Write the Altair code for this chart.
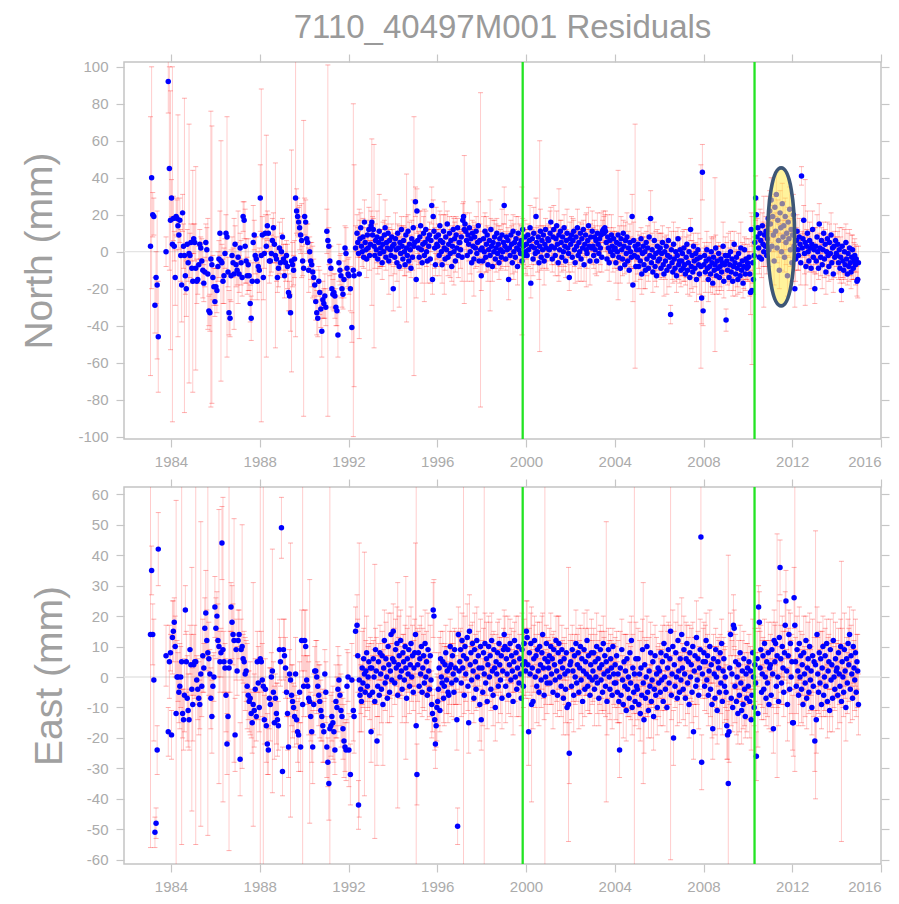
import altair as alt
import pandas as pd

alt.data_transformers.disable_max_rows()

# ---------------------------------------------------------------- data
# One list per calendar year; entries are spread evenly through that year.
# None marks an empty slot (no solution at that epoch).
YEARS = list(range(1983, 2015))

NORTH = [
    [None, 3, 40, 20, 19, -29, -14, -18, -46, None, None, None, None, None, None, 0, None, 92, 45, 17],
    [29, 4, 18, 3, -14, 19, 18, 14, 9, 17, -2, -18, 21, 3, -2, -13, -20, 4, -6, -1, -2, 5, -9, -16],
    [7, 5, -9, -16, -15, -7, 4, 2, -5, -10, -17, -11, 5, 1, -12, -32, -33, -4, -7, -14, -19, -27],
    [-19, -21, -8, -4, 10, -5, -6, -16, -13, -1, 10, 8, -11, -33, -36, -13, -2, -6, -12, 4, -7, -10],
    [-3, -12, 2, -6, -14, 19, 17, 3, -5, -13, -7, -13, -28, -36, -16, 5, 9, -2, -4, -16, -8, -10],
    [29, -2, 9, -14, -1, 10, 3, 14, 10, -5, -5, -1, 6, 13, 4, -2, -4, -14, -9, 2, -6, 0],
    [8, -4, -13, -6, -2, -8, -22, -24, -33, -5, -7, -10, -4, 29, 22, 19, 16, 13, 9, 6, -5, -9],
    [19, 16, 7, 5, -10, 0, -5, -7, -11, -14, -18, -27, -33, -36, -16, -22, -31, -43, -26, -28, -24, -30],
    [11, 6, 3, -5, -9, -20, -23, -22, -24, -30, -32, -45, -6, -10, -13, -20, -23, -15, 2, -1, -9, -12],
    [-13, None, -20, None, -41, None, -10, -13, None, 2, None, 10, 5, -1, -12, 7, 13, 3, 0, 8, -3, 16, 5, 1, -4, 9, 2, 12, -2, 4],
    [14, 16, 9, 12, 3, -2, 6, 1, 8, -4, 5, 11, -1, 2, 7, -6, 4, 0, 9, 13, -3, 5, 2, 10, -5, 6, 1, -2, 8, 3],
    [-20, 4, -3, 7, 1, -6, 10, 2, -8, 5, -1, 12, 3, -4, 6, 0, -7, 9, 2, -2, 11, -5, 4, 1, -9, 7, -3, 13, 3, 5],
    [27, -15, 22, 6, 2, -3, 8, 14, 1, -6, 4, 10, -2, 5, 12, 0, -5, 7, 3, 9, -4, 6, 25, -15, 19, 11, 2, -7, 8, 4],
    [3, 9, -2, 14, 6, 0, -7, 5, 11, 2, -4, 8, 1, 15, -3, 4, 10, -1, 6, -8, 3, 12, 0, 7, -5, 9, 2, 13, -2, 5],
    [5, 1, 8, -3, 17, 19, 12, 15, 11, 6, -2, 9, 4, 13, 0, 7, -6, 10, 3, -4, 8, 2, 11, -1, 5, 14, -5, 6, 1, -13],
    [2, -5, 7, 0, 11, -3, 4, 9, -7, 1, 6, -2, 12, 3, -8, 5, 0, 8, -4, 2, 10, -1, 4, -6, 7, 1, -3, 9, 0, 5],
    [25, 3, -4, 8, 1, 6, -15, 2, -2, 9, 4, -6, 11, 0, 5, -3, 7, 2, -8, 10, 1, 4, -1, 6, -5, 12, 3, -2, 8, 0],
    [4, -2, 9, 1, 6, 13, -17, 3, 7, -4, 10, 2, -1, 19, 5, 0, 8, -6, 3, 11, -3, 6, 1, 9, -5, 4, 12, 2, -2, 7],
    [6, 1, 10, 16, 3, -4, 8, 12, 2, -2, 7, 14, 4, -6, 9, 1, 11, 5, -3, 8, 0, 13, 3, -5, 6, 10, 2, -1, -14, 7],
    [4, 9, -3, 6, 11, 1, -6, 8, 3, 13, -2, 5, 0, 10, -4, 7, 2, 12, -7, 4, 9, 1, -1, 6, 14, 3, -5, 8, 2, 11],
    [3, -2, 8, 1, 6, -5, 10, 4, -1, 7, 2, 9, -3, 11, 12, 10, 13, 11, 5, -4, 8, 2, -6, 6, 0, 9, 3, -2, 7, 1],
    [2, -6, 5, 0, 9, -3, 4, -9, 7, 1, -4, 10, 3, -7, 6, -1, 8, -5, 2, -10, 5, 0, -3, 19, -18, 6, -2, 3, -8, 1],
    [-3, 4, -8, 1, -5, 7, -12, -1, 3, -7, 0, -10, 5, -4, 2, -9, 8, -2, 18, -6, 1, -11, -3, 6, -8, -1, -13, 3, -5, 0],
    [-4, 2, -9, -1, 5, -7, -12, 0, -5, 3, -10, -2, 6, -8, -3, -34, 1, -6, -11, 4, -4, -9, 0, -13, -2, 7, -7, -5, 1, -10],
    [-5, -1, -9, 2, -7, -12, -3, 4, -10, -6, 0, -14, 12, -8, -2, -11, 3, -5, -9, -1, -15, -4, 1, -7, -12, -3, -8, -25, 43, -32],
    [-7, -2, -11, -5, 1, -9, -15, -4, -8, -12, 0, -6, -17, -3, -10, -7, 2, -13, -5, -9, -1, -14, -8, -4, -11, -6, 3, -16, -7, -2],
    [-37, -5, -10, -2, -14, -7, 0, -11, -4, -16, -8, 4, -6, -12, -3, -9, -15, -1, -7, -13, 2, -10, -5, -17, -8, 1, -12, -4, -9, -6],
    [-8, -3, -12, -22, 12, -21, -6, -15, -2, 5, 29, 20, 8, 13, 2, -3, 10, 6, -4, 14, 4, 0, 9, 3, 11, -2, 7, 18, 1, 22],
    [15, 28, 3, 19, 9, -5, 24, 11, 31, 2, 17, 6, -10, 21, 13, 0, 26, 8, 14, -3, 19, 5, 10, -13, 16, 7, 23, 1, 12, -6],
    [9, 20, 3, -20, -4, 6, 11, 1, -2, 8, 4, -6, 41, 2, 7, 17, -1, 5, -8, 3, 10, 0, -5, 6, 2, -9, 4, 12, -3, 1],
    [-20, 3, -5, 8, 0, -9, 15, 2, -3, 6, -7, 1, 10, -4, 4, -11, 0, 7, -2, -8, 5, -1, 9, -6, 2, -12, 3, -3, 6, -1],
    [-2, 4, -6, 1, -9, -3, -21, 3, -5, -10, 0, -7, 5, -4, -12, -1, -8, 2, -6, -11, -3, 1, -9, -5, -2, -7, -4, -16, -15, -6],
]

NORTH_SIGMA = [
    [0, 70, 60, 12, 10, 15, 14, 40, 30, 0, 0, 0, 0, 0, 0, 8, 0, 17, 55, 70],
    [10, 96, 12, 8, 15, 10, 10, 60, 8, 12, 14, 20, 10, 12, 85, 10, 15, 8, 10, 70, 12, 10, 8, 60],
    [8, 10, 55, 12, 8, 10, 8, 6, 12, 15, 10, 8, 10, 12, 30, 8, 10, 80, 75, 12, 10, 8],
    [10, 12, 8, 10, 12, 65, 10, 12, 15, 8, 10, 65, 8, 12, 10, 14, 10, 8, 30, 10, 12, 8],
    [25, 10, 8, 12, 10, 8, 10, 20, 12, 10, 14, 8, 10, 12, 10, 20, 8, 10, 12, 10, 8, 12],
    [18, 90, 10, 12, 8, 10, 60, 8, 10, 12, 8, 10, 12, 8, 10, 50, 12, 8, 10, 14, 8, 10],
    [10, 8, 12, 10, 8, 12, 10, 8, 10, 60, 12, 8, 10, 75, 12, 10, 8, 12, 10, 20, 8, 80],
    [10, 12, 8, 10, 12, 8, 10, 12, 14, 10, 8, 10, 12, 10, 8, 12, 10, 14, 10, 8, 12, 10],
    [12, 95, 10, 8, 12, 10, 8, 10, 12, 10, 8, 12, 10, 8, 12, 10, 8, 10, 12, 14, 10, 8],
    [10, 0, 12, 0, 8, 0, 90, 60, 0, 12, 0, 10, 8, 12, 35, 10, 8, 6, 8, 10, 6, 12, 8, 6, 10, 8, 6, 12, 8, 6],
    [8, 45, 10, 6, 55, 7, 9, 5, 14, 8, 6, 20, 7, 10, 5, 9, 12, 6, 8, 15, 7, 10, 5, 9, 18, 6, 8, 11, 7, 9],
    [12, 6, 9, 14, 7, 10, 5, 8, 22, 6, 9, 7, 11, 5, 8, 13, 6, 10, 40, 7, 9, 6, 12, 8, 5, 10, 7, 15, 70, 9],
    [8, 10, 12, 7, 9, 6, 14, 8, 5, 11, 7, 9, 25, 6, 10, 8, 12, 5, 9, 7, 13, 6, 10, 8, 9, 7, 11, 6, 16, 8],
    [9, 6, 11, 8, 14, 5, 10, 7, 9, 25, 6, 12, 8, 7, 10, 5, 9, 13, 6, 8, 11, 7, 18, 9, 6, 10, 8, 5, 12, 7],
    [7, 10, 6, 13, 9, 8, 40, 5, 10, 7, 14, 6, 9, 8, 12, 5, 10, 7, 9, 20, 6, 11, 8, 7, 10, 13, 6, 9, 85, 8],
    [9, 7, 12, 6, 10, 8, 15, 5, 9, 11, 7, 30, 6, 10, 8, 12, 7, 9, 5, 13, 8, 6, 10, 9, 7, 11, 6, 14, 8, 10],
    [10, 8, 6, 12, 9, 7, 11, 5, 13, 8, 10, 6, 9, 15, 7, 8, 12, 6, 10, 9, 7, 11, 5, 8, 40, 6, 10, 7, 9, 12],
    [8, 11, 6, 9, 7, 12, 8, 10, 5, 9, 14, 7, 6, 10, 8, 11, 6, 9, 57, 12, 7, 8, 10, 5, 13, 9, 6, 11, 8, 7],
    [9, 6, 12, 8, 10, 7, 5, 13, 9, 11, 6, 8, 10, 7, 25, 9, 6, 12, 8, 5, 10, 7, 11, 9, 6, 13, 8, 10, 7, 9],
    [7, 10, 8, 12, 6, 9, 11, 5, 8, 10, 14, 7, 9, 6, 12, 8, 10, 5, 9, 7, 11, 20, 8, 6, 10, 9, 13, 7, 8, 11],
    [10, 7, 9, 13, 6, 8, 11, 5, 10, 7, 9, 12, 8, 6, 10, 9, 7, 11, 8, 6, 12, 9, 10, 7, 5, 11, 8, 9, 6, 10],
    [8, 11, 6, 9, 35, 7, 10, 8, 12, 6, 9, 7, 11, 5, 10, 8, 13, 6, 9, 7, 10, 8, 6, 12, 9, 10, 7, 66, 8, 6],
    [9, 7, 12, 8, 10, 6, 11, 9, 7, 13, 8, 10, 6, 9, 12, 7, 10, 8, 15, 6, 9, 11, 7, 10, 8, 12, 6, 9, 7, 10],
    [10, 8, 6, 11, 9, 7, 12, 8, 10, 6, 13, 9, 7, 11, 8, 5, 10, 9, 6, 12, 8, 7, 11, 9, 10, 6, 8, 12, 7, 9],
    [8, 12, 7, 10, 9, 6, 11, 8, 13, 7, 9, 10, 6, 12, 8, 11, 7, 9, 10, 6, 12, 8, 9, 7, 11, 10, 55, 14, 15, 8],
    [9, 7, 11, 8, 10, 6, 12, 9, 7, 10, 8, 13, 6, 11, 9, 47, 7, 10, 8, 12, 6, 9, 11, 7, 10, 8, 13, 9, 6, 10],
    [6, 10, 8, 12, 7, 9, 11, 6, 10, 8, 13, 7, 9, 12, 6, 10, 8, 11, 7, 9, 14, 6, 10, 8, 12, 7, 9, 11, 6, 10],
    [8, 10, 12, 12, 9, 40, 11, 8, 10, 9, 12, 8, 10, 7, 11, 9, 13, 8, 10, 7, 12, 30, 6, 11, 8, 10, 7, 12, 9, 11],
    [10, 12, 8, 11, 9, 13, 7, 10, 12, 8, 11, 9, 10, 12, 8, 10, 11, 9, 13, 8, 10, 12, 9, 11, 8, 10, 12, 9, 11, 10],
    [9, 11, 8, 10, 12, 7, 9, 11, 8, 10, 6, 12, 5, 9, 10, 8, 11, 34, 10, 9, 12, 8, 6, 10, 9, 11, 7, 10, 8, 12],
    [8, 10, 7, 12, 9, 6, 11, 8, 10, 7, 13, 9, 6, 10, 8, 12, 7, 9, 11, 8, 10, 6, 12, 9, 7, 10, 8, 11, 9, 7],
    [10, 7, 9, 12, 8, 11, 6, 10, 9, 7, 12, 8, 10, 9, 6, 11, 8, 10, 7, 9, 12, 8, 6, 10, 9, 11, 7, 8, 10, 9],
]

EAST = [
    [None, 14, 35, 14, -1, -51, -48, -24, 42, None, None, None, None, None, None, 7, None, -18, 5, 8],
    [-19, 13, 15, 18, 10, -12, 0, 0, -5, -3, 0, 5, -12, -14, -6, 22, 5, -7, -11, -14, 9, 4, -4, -9],
    [4, 5, 5, -1, -4, -7, -9, 1, -3, 7, 3, 16, 21, 12, 8, 6, 1, -7, -13, -3, 0, 23],
    [16, 20, 12, 10, 5, 8, 44, 9, 5, 3, -6, -22, -13, 3, 5, 23, 18, 14, 12, -19, 9, 2],
    [12, 14, -27, 9, 10, 6, 5, 1, 2, -3, -6, -8, -7, -12, -15, -9, -11, -4, -13, 5, -2, -10],
    [6, 5, -1, -3, -14, -4, -16, -22, -24, -7, -9, 0, 2, -5, -15, -7, -12, -14, -16, 9, 5, 49],
    [-31, 9, 7, 3, -5, -12, -23, 1, -1, -6, -8, -10, -13, 1, -14, -18, -19, -5, -23, 12, -9, -3],
    [12, 10, -1, -3, -7, -8, -13, -18, -23, -9, 2, 2, 0, -3, -6, -8, -11, -13, -16, -18, 1, -5],
    [-23, -28, -35, -17, -16, -13, -15, -18, -24, -8, -10, -4, -1, -6, -11, -13, -17, -21, -23, -24, -3, 0],
    [-24, None, -32, None, -1, None, -11, -13, None, 15, None, 17, 7, -42, -1, -6, -4, -8, 3, -2, 6, 1, -5, 2, 8, -3, 0, 5, -6, 3],
    [-18, 3, -5, 6, 0, -8, 9, 2, -21, -3, 5, -6, 8, 1, -4, 7, -9, 3, 12, -2, 6, 0, -7, 10, 4, -5, 2, 14, -1, 6],
    [15, 5, -2, 9, 3, 11, -6, 4, 7, 0, 12, 2, -4, 8, 5, -1, 10, 3, -7, 6, 1, 9, -3, 4, 11, 0, 7, -5, 3, 8],
    [14, -16, -32, 4, 8, -3, 6, 1, 10, -5, 3, 7, -2, 11, 0, 5, -6, 9, 2, -4, 7, -1, -9, -12, 22, 20, -14, -22, -16, -10],
    [-8, -4, 3, -11, 6, 0, -2, 5, -7, -3, 4, 8, -1, 2, -5, -6, 3, 10, 4, -2, 7, 1, -5, 9, 3, -1, -14, -49, 14, 2],
    [5, 9, -2, 12, 3, 7, -6, 10, 1, 6, 13, -3, -15, 15, 4, 8, -1, 11, 2, -7, 9, 5, -4, 12, 0, 7, 3, -9, 10, -14],
    [3, -5, 8, 1, 11, -2, 6, -8, 4, 10, 0, 7, -4, 12, 2, -6, 9, 3, -10, 5, 1, 8, -3, 11, 4, -1, 7, -7, 2, 9],
    [14, 10, -3, 6, 1, 9, -6, 4, 11, -1, 7, 2, -8, 5, 12, 0, 8, -4, 3, 10, -2, 6, 1, -7, 9, 4, -3, 11, 5, 2],
    [15, 13, 4, -18, 8, 1, 11, -9, 3, -8, 6, 12, 0, 7, -3, 9, 2, -5, 10, 4, -1, 8, 14, 3, -6, 6, 0, 11, -2, 5],
    [3, 7, -2, 10, 1, 6, -5, 9, 4, -1, 12, 2, -6, 8, 11, 0, 5, -3, 9, 3, -7, 6, 1, -4, 8, -10, 2, -9, -25, 4],
    [5, -3, 9, 2, -6, 7, 0, 11, -2, 4, 8, -5, 3, 10, -1, 6, -8, 2, 9, -4, 5, 1, 12, -3, 7, 0, -6, 4, 8, -1],
    [2, 8, -4, 5, 0, 10, -2, 6, -7, 3, 9, -1, 4, -5, 11, 1, 7, -3, 5, -8, 2, 9, 0, -4, 6, 3, -6, 10, 1, -2],
    [4, -2, 7, -5, 1, -8, -24, 3, -6, 9, -1, -9, 5, -3, 2, -11, 6, -4, 0, -7, 8, -2, 12, -10, 3, -5, 1, -8, 6, -3],
    [-4, 6, -9, 1, -12, 3, -6, 9, -2, -14, 4, -7, 0, 10, -5, -11, 2, -3, 8, -8, -1, 5, -13, -4, 7, -6, 1, -10, 3, -2],
    [2, -5, 8, -1, 5, -8, 11, 0, -4, 7, -10, 3, 9, -2, 6, 15, -6, 1, 10, -20, 4, -3, 8, 0, -7, 12, 2, -5, 6, -1],
    [14, 3, -4, 9, 1, -7, 6, 11, -2, 5, -9, 8, 0, 4, -5, 10, -18, 2, 7, -3, 13, -1, 6, -6, 3, 9, 46, -28, 1, 5],
    [8, -3, 5, 12, -1, 7, -6, 2, 10, -4, 4, -9, -17, 6, 1, -7, 9, 0, -11, 5, 3, -5, 8, -2, 11, -8, 2, 6, -3, 0],
    [-5, -16, -19, -35, -18, 3, 14, -7, 1, -10, 17, 16, -3, 5, -8, 0, -12, 4, -6, 8, -2, -11, 2, -9, 6, -4, -13, 1, -7, 3],
    [-3, 5, -8, 2, -14, -6, 8, 0, -10, 4, -2, -26, 6, -12, 23, 18, 3, 9, -5, 1, 7, -4, 11, 0, -7, 5, -2, 8, -9, 3],
    [4, -6, 9, 1, -17, 12, 5, 11, -3, 7, 0, -8, 13, 36, 6, -2, 10, 3, -5, 8, 17, 25, 2, -9, 7, 14, -4, 11, 0, 5],
    [-15, -15, 26, 17, 5, -3, 9, 2, -6, 11, 0, 7, -4, 4, -9, 8, 1, -2, 12, -7, 3, 6, -5, 10, -1, 2, -10, 7, -3, 5],
    [-21, 4, -14, 14, 1, -5, 8, -2, 6, -9, 3, 10, -6, 0, 7, -3, 11, -8, 2, 5, -11, 9, -1, 4, -7, 12, 0, -4, 6, 2],
    [3, -6, 8, 1, -3, 10, -8, 5, 0, -5, 9, 2, -10, 6, -2, 11, 4, 14, -4, 7, 1, -7, 10, 3, -1, 8, -5, 5, 2, -9],
]

EAST_SIGMA = [
    [0, 70, 8, 10, 20, 5, 5, 8, 12, 0, 0, 0, 0, 0, 0, 10, 0, 8, 12, 6],
    [8, 12, 10, 8, 10, 70, 12, 8, 10, 14, 10, 60, 8, 10, 12, 8, 10, 14, 12, 10, 8, 10, 40, 12],
    [10, 12, 60, 8, 10, 12, 8, 50, 10, 12, 8, 10, 14, 10, 60, 12, 8, 10, 12, 10, 8, 10],
    [10, 8, 12, 45, 10, 8, 12, 50, 10, 8, 12, 10, 8, 60, 10, 8, 12, 10, 40, 12, 10, 8],
    [10, 8, 12, 10, 40, 8, 10, 12, 10, 14, 8, 10, 12, 8, 10, 40, 12, 10, 8, 10, 12, 8],
    [70, 10, 12, 100, 8, 10, 12, 10, 8, 10, 12, 8, 40, 10, 12, 8, 10, 12, 8, 10, 8, 10],
    [8, 10, 12, 10, 8, 12, 10, 8, 45, 10, 12, 8, 10, 12, 8, 10, 12, 10, 8, 10, 110, 10],
    [10, 12, 8, 10, 12, 40, 8, 10, 12, 10, 8, 10, 12, 8, 10, 12, 10, 8, 12, 10, 8, 10],
    [10, 8, 12, 100, 10, 8, 12, 10, 8, 12, 10, 14, 8, 10, 12, 8, 10, 12, 8, 10, 12, 8],
    [12, 0, 10, 0, 12, 0, 10, 12, 0, 8, 0, 10, 12, 8, 45, 12, 8, 10, 12, 8, 10, 40, 8, 10, 12, 8, 10, 6, 8, 10],
    [10, 8, 12, 6, 9, 45, 7, 11, 8, 10, 6, 13, 9, 7, 11, 8, 20, 6, 10, 9, 12, 7, 8, 11, 6, 10, 9, 7, 12, 8],
    [9, 11, 7, 10, 6, 12, 37, 9, 13, 7, 10, 8, 11, 6, 9, 12, 7, 30, 8, 10, 6, 11, 9, 7, 12, 8, 10, 6, 9, 11],
    [30, 100, 10, 12, 7, 9, 11, 6, 10, 8, 13, 7, 9, 11, 6, 10, 8, 12, 7, 9, 10, 8, 11, 6, 9, 12, 10, 8, 7, 11],
    [8, 12, 10, 7, 9, 11, 6, 10, 8, 13, 7, 9, 11, 8, 10, 6, 12, 9, 7, 11, 8, 10, 9, 7, 12, 8, 10, 6, 9, 11],
    [10, 7, 11, 9, 8, 100, 6, 10, 9, 7, 11, 8, 10, 12, 6, 9, 11, 7, 10, 8, 12, 9, 7, 11, 10, 8, 6, 12, 9, 10],
    [9, 11, 8, 120, 10, 7, 12, 9, 6, 10, 8, 11, 7, 9, 12, 10, 6, 8, 11, 9, 7, 10, 12, 8, 9, 11, 6, 10, 8, 7],
    [8, 10, 12, 7, 9, 11, 6, 10, 8, 12, 9, 7, 11, 10, 6, 8, 12, 9, 7, 10, 11, 8, 6, 9, 12, 10, 7, 8, 11, 9],
    [10, 12, 9, 11, 8, 7, 10, 32, 6, 9, 11, 8, 10, 7, 12, 9, 6, 11, 8, 10, 9, 12, 7, 10, 8, 100, 9, 6, 10, 8],
    [9, 9, 7, 11, 10, 8, 12, 6, 9, 11, 8, 10, 7, 12, 9, 11, 6, 10, 8, 9, 12, 7, 10, 11, 8, 9, 6, 45, 10, 8],
    [9, 11, 8, 10, 12, 7, 9, 11, 6, 10, 8, 12, 9, 7, 11, 10, 8, 6, 12, 9, 11, 7, 10, 8, 9, 12, 6, 10, 11, 8],
    [10, 8, 12, 9, 7, 11, 10, 6, 9, 12, 8, 10, 11, 7, 9, 12, 8, 10, 46, 11, 9, 7, 12, 10, 8, 9, 11, 6, 10, 8],
    [9, 12, 8, 10, 11, 7, 9, 12, 6, 10, 8, 11, 9, 7, 12, 10, 8, 9, 11, 6, 10, 12, 8, 9, 11, 7, 100, 8, 12, 9],
    [10, 10, 8, 11, 9, 12, 7, 10, 33, 11, 9, 6, 12, 10, 8, 9, 11, 7, 10, 12, 8, 9, 11, 6, 10, 8, 12, 9, 7, 11],
    [9, 11, 7, 10, 12, 8, 9, 11, 6, 10, 8, 12, 9, 7, 11, 75, 8, 6, 12, 9, 11, 7, 10, 8, 9, 12, 6, 10, 11, 8],
    [12, 8, 10, 11, 7, 9, 12, 6, 10, 8, 11, 9, 7, 12, 10, 8, 9, 11, 6, 10, 12, 8, 9, 11, 7, 10, 20, 9, 8, 11],
    [10, 8, 12, 9, 11, 7, 10, 8, 12, 9, 6, 11, 10, 8, 9, 12, 7, 10, 11, 8, 9, 12, 6, 10, 8, 11, 9, 7, 12, 10],
    [9, 11, 8, 75, 10, 12, 7, 9, 11, 8, 10, 6, 12, 9, 11, 7, 10, 8, 12, 9, 6, 11, 10, 8, 9, 12, 7, 10, 11, 8],
    [11, 9, 12, 8, 10, 7, 11, 9, 6, 12, 10, 8, 9, 11, 7, 10, 12, 8, 9, 11, 6, 10, 8, 12, 9, 7, 11, 10, 8, 9],
    [10, 12, 9, 11, 8, 10, 12, 7, 9, 40, 10, 8, 12, 9, 11, 7, 10, 12, 8, 9, 11, 10, 7, 12, 9, 8, 11, 10, 12, 9],
    [9, 11, 10, 48, 8, 9, 11, 7, 10, 12, 9, 8, 11, 10, 7, 12, 9, 11, 8, 10, 9, 12, 7, 11, 10, 8, 9, 12, 10, 8],
    [10, 44, 11, 9, 12, 7, 10, 11, 9, 8, 12, 10, 7, 11, 9, 10, 8, 12, 11, 9, 7, 10, 12, 8, 11, 9, 10, 7, 12, 9],
    [9, 11, 8, 10, 12, 9, 46, 11, 10, 8, 12, 9, 11, 7, 10, 8, 12, 9, 11, 10, 8, 7, 12, 9, 10, 11, 8, 9, 12, 10],
]

X_TICKS = [1984, 1988, 1992, 1996, 2000, 2004, 2008, 2012, 2016]
NORTH_TICKS = [-100, -80, -60, -40, -20, 0, 20, 40, 60, 80, 100]
EAST_TICKS = [-60, -50, -40, -30, -20, -10, 0, 10, 20, 30, 40, 50, 60]
BREAKS = [1999.85, 2010.3]          # equipment / model change epochs
HIGHLIGHT_T = [2011.5]              # highlighted cluster (North)
HIGHLIGHT_V = [8]

# ---------------------------------------------------------------- styling
FONT = "Liberation Sans"
LABEL_GRAY = "#ababab"
TICK_GRAY = "#c6c6c6"
TITLE_GRAY = "#a0a0a0"
X_DOMAIN = [1981.88, 2016]
PLOT_W = 757
ELLIPSE = "M0,-1 C0.26,-1 0.26,1 0,1 C-0.26,1 -0.26,-1 0,-1 Z"


def build_frame(values, sigmas):
    rows = []
    for year, vals, sig in zip(YEARS, values, sigmas):
        n = len(vals)
        for i, v in enumerate(vals):
            if v is None:
                continue
            s = sig[i] if i < len(sig) and sig[i] else 8
            rows.append({"t": year + (i + 0.5) / n, "v": v, "lo": v - s, "hi": v + s})
    return pd.DataFrame(rows)


def panel(df, y_domain, y_ticks, y_title, title_x, height, highlight=False):
    xs = alt.Scale(domain=X_DOMAIN, nice=False, zero=False)
    ys = alt.Scale(domain=y_domain, nice=False, zero=False)

    x_axis = alt.Axis(
        orient="bottom", values=X_TICKS, labelExpr="'' + datum.value", title=None,
        grid=False, domain=False, ticks=True, tickSize=8, tickColor=TICK_GRAY,
        tickWidth=1.2, labelColor=LABEL_GRAY, labelFont=FONT, labelFontSize=15,
        labelPadding=7,
    )
    y_axis = alt.Axis(
        orient="left", values=y_ticks, labelExpr="'' + datum.value", grid=False,
        domain=False, ticks=True, tickSize=8, tickColor=TICK_GRAY, tickWidth=1.2,
        labelColor=LABEL_GRAY, labelFont=FONT, labelFontSize=15, labelPadding=8,
        title=y_title, titleX=title_x, titleY=height / 2, titleAngle=270,
        titleAlign="center", titleBaseline="alphabetic", titleFont=FONT,
        titleFontSize=39, titleFontWeight="normal", titleColor=TITLE_GRAY,
    )
    x_top = alt.Axis(orient="top", values=X_TICKS, labels=False, title=None, grid=False,
                     domain=False, tickSize=8, tickColor=TICK_GRAY, tickWidth=1.2)
    y_right = alt.Axis(orient="right", values=y_ticks, labels=False, title=None, grid=False,
                       domain=False, tickSize=8, tickColor=TICK_GRAY, tickWidth=1.2)

    X = lambda f, ax=None: alt.X(f, type="quantitative", scale=xs, axis=ax)
    Y = lambda f, ax=None: alt.Y(f, type="quantitative", scale=ys, axis=ax)

    base = alt.Chart(df)
    zero = alt.Chart(pd.DataFrame({"v": [0]})).mark_rule(
        color="#e4e4e4", strokeWidth=1.3).encode(y=Y("v"))
    bars = base.mark_rule(color="#ff0000", opacity=0.2, strokeWidth=1, clip=True).encode(
        x=X("t"), y=Y("lo"), y2="hi")
    cap_lo = base.mark_tick(color="#ff0000", opacity=0.32, orient="horizontal", size=5,
                            thickness=1, clip=True).encode(x=X("t"), y=Y("lo"))
    cap_hi = base.mark_tick(color="#ff0000", opacity=0.32, orient="horizontal", size=5,
                            thickness=1, clip=True).encode(x=X("t"), y=Y("hi"))
    pts = base.mark_circle(color="#0000ff", size=30, opacity=1, clip=True).encode(
        x=X("t", x_axis), y=Y("v", y_axis))
    green = alt.Chart(pd.DataFrame({"t": BREAKS})).mark_rule(
        color="#22e422", strokeWidth=2.3).encode(x=X("t"))
    mirror = alt.Chart(pd.DataFrame({"t": [2000], "v": [0]})).mark_point(opacity=0).encode(
        x=X("t", x_top), y=Y("v", y_right))

    layers = [zero, bars, cap_lo, cap_hi, pts, green]
    if highlight:
        ell = alt.Chart(pd.DataFrame({"t": HIGHLIGHT_T, "v": HIGHLIGHT_V})).mark_point(
            shape=ELLIPSE, size=19044, filled=True, fill="#ffea4a", fillOpacity=0.55,
            stroke="#3d5676", strokeWidth=3.6, strokeOpacity=1, opacity=1,
        ).encode(x=X("t"), y=Y("v"))
        layers.append(ell)
    layers.append(mirror)
    return alt.layer(*layers).resolve_axis(x="independent", y="independent").properties(
        width=PLOT_W, height=height)


north_df = build_frame(NORTH, NORTH_SIGMA)
east_df = build_frame(EAST, EAST_SIGMA)

top = panel(north_df, [-101.3, 102.6], NORTH_TICKS, "North (mm)", -73, 377, highlight=True)
top = top.properties(title=alt.TitleParams(
    "7110_40497M001 Residuals", font=FONT, fontSize=33, fontWeight="normal",
    color="#9a9a9a", anchor="middle", frame="group", offset=8))
bottom = panel(east_df, [-61.4, 62.4], EAST_TICKS, "East (mm)", -63, 377)

chart = alt.vconcat(top, bottom, spacing=7).configure_view(
    stroke="#c4c4c4", strokeWidth=1.5
).properties(
    background="white", padding={"left": 11, "top": 3, "right": 0, "bottom": 0}
)

chart.save("out.html", embed_options={"renderer": "svg", "actions": False})
